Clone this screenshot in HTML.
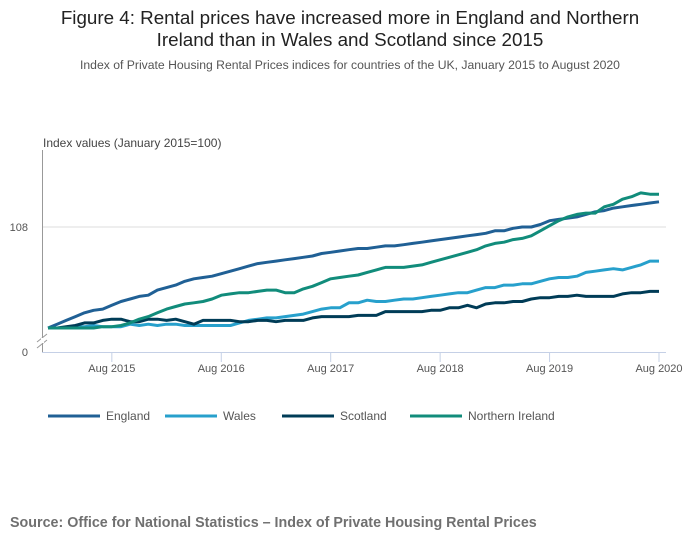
<!DOCTYPE html>
<html><head><meta charset="utf-8"><style>
body{margin:0;background:#fff;font-family:"Liberation Sans",sans-serif;}
</style></head><body>
<svg width="700" height="549" xmlns="http://www.w3.org/2000/svg" font-family="Liberation Sans, sans-serif">
<text x="350" y="24" text-anchor="middle" font-size="18.8" fill="#222">Figure 4: Rental prices have increased more in England and Northern</text>
<text x="350" y="46" text-anchor="middle" font-size="18.8" fill="#222">Ireland than in Wales and Scotland since 2015</text>
<text x="350" y="69" text-anchor="middle" font-size="12.2" fill="#555">Index of Private Housing Rental Prices indices for countries of the UK, January 2015 to August 2020</text>
<text x="43" y="147" font-size="12" fill="#444">Index values (January 2015=100)</text>
<g id="axes"></g>
<g id="series"></g>
<g id="legend"></g>
<text x="10" y="527" font-size="14.3" font-weight="bold" fill="#707070">Source: Office for National Statistics – Index of Private Housing Rental Prices</text>
</svg>
<script>
const england=[100.0,100.3,100.6,100.9,101.2,101.4,101.5,101.8,102.1,102.3,102.5,102.6,
103.0,103.2,103.4,103.7,103.9,104.0,104.1,104.3,104.5,104.7,104.9,105.1,
105.2,105.3,105.4,105.5,105.6,105.7,105.9,106.0,106.1,106.2,106.3,106.3,
106.4,106.5,106.5,106.6,106.7,106.8,106.9,107.0,107.1,107.2,107.3,107.4,
107.5,107.7,107.7,107.9,108.0,108.0,108.2,108.5,108.6,108.7,108.8,109.0,
109.2,109.3,109.5,109.6,109.7,109.8,109.9,110.0];
const wales=[100,100,100,100.1,100.1,100.2,100.1,100.1,100.1,100.3,100.2,100.3,
100.2,100.3,100.3,100.2,100.2,100.2,100.2,100.2,100.2,100.4,100.6,100.7,
100.8,100.8,100.9,101.0,101.1,101.3,101.5,101.6,101.6,102.0,102.0,102.2,
102.1,102.1,102.2,102.3,102.3,102.4,102.5,102.6,102.7,102.8,102.8,103.0,
103.2,103.2,103.4,103.4,103.5,103.5,103.7,103.9,104.0,104.0,104.1,104.4,
104.5,104.6,104.7,104.6,104.8,105.0,105.3,105.3];
const scotland=[100,100,100.1,100.2,100.4,100.4,100.6,100.7,100.7,100.5,100.5,100.7,
100.7,100.6,100.7,100.5,100.3,100.6,100.6,100.6,100.6,100.5,100.5,100.6,
100.6,100.5,100.6,100.6,100.6,100.8,100.9,100.9,100.9,100.9,101.0,101.0,
101.0,101.3,101.3,101.3,101.3,101.3,101.4,101.4,101.6,101.6,101.8,101.6,
101.9,102.0,102.0,102.1,102.1,102.3,102.4,102.4,102.5,102.5,102.6,102.5,
102.5,102.5,102.5,102.7,102.8,102.8,102.9,102.9];
const nireland=[100,100,100,100,100,100,100.1,100.1,100.2,100.4,100.7,100.9,
101.2,101.5,101.7,101.9,102.0,102.1,102.3,102.6,102.7,102.8,102.8,102.9,
103.0,103.0,102.8,102.8,103.1,103.3,103.6,103.9,104.0,104.1,104.2,104.4,
104.6,104.8,104.8,104.8,104.9,105.0,105.2,105.4,105.6,105.8,106.0,106.2,
106.5,106.7,106.8,107.0,107.1,107.3,107.7,108.1,108.5,108.8,109.0,109.1,
109.1,109.6,109.8,110.2,110.4,110.7,110.6,110.6];
const xTickLabels=["Aug 2015","Aug 2016","Aug 2017","Aug 2018","Aug 2019","Aug 2020"];
const xTickMonths=[7,19,31,43,55,67];
const yTickValues=[108];
const seriesNames=["England","Wales","Scotland","Northern Ireland"];
const colors=["#206095","#27a0cc","#003c57","#118c7b"];

const NS="http://www.w3.org/2000/svg";
const x=m=>48+m*(611/67);
const y=v=>328-(v-100)*(101/8);
function mk(tag,attrs,parent){const e=document.createElementNS(NS,tag);for(const k in attrs)e.setAttribute(k,attrs[k]);parent.appendChild(e);return e;}
const axes=document.getElementById('axes');
yTickValues.forEach(v=>{
 const g=mk('line',{x1:42,x2:666,y1:y(v),y2:y(v),stroke:'#ddd','stroke-width':1},axes);
 
 
 const t=mk('text',{x:28,y:y(v)+4,'text-anchor':'end','font-size':11,fill:'#555'},axes);
 t.textContent=v;
 
 
});
const z=mk('text',{x:28,y:356,'text-anchor':'end','font-size':11,fill:'#555'},axes);z.textContent='0';


const ya=mk('line',{x1:42.5,x2:42.5,y1:150,y2:352,stroke:'#999','stroke-width':1},axes);


const br=mk('path',{d:'M37,342 L47,334 M37,348 L47,340',stroke:'#999','stroke-width':1,fill:'none'},axes);


mk('rect',{x:41,y:338,width:3,height:5,fill:'#fff'},axes);
const xa=mk('line',{x1:42,x2:666,y1:352.5,y2:352.5,stroke:'#c5d0e6','stroke-width':1},axes);


xTickMonths.forEach((m,i)=>{
 const tk=mk('line',{x1:x(m),x2:x(m),y1:352,y2:362,stroke:'#c5d0e6'},axes);
 
 
 const t=mk('text',{x:x(m),y:372,'text-anchor':'middle','font-size':11,fill:'#555'},axes);
 t.textContent=xTickLabels[i];
 
 
});
const ser=document.getElementById('series');
[england,wales,scotland,nireland].forEach((d,i)=>{
 const p=mk('path',{d:d.map((v,m)=>(m?'L':'M')+x(m).toFixed(1)+','+y(v).toFixed(1)).join(''),fill:'none',stroke:colors[i],'stroke-width':3,'stroke-linejoin':'round'},ser);
 
 
});
const leg=document.getElementById('legend');
const lx=[48,165,282,410];
seriesNames.forEach((n,i)=>{
 const l=mk('line',{x1:lx[i],x2:lx[i]+52,y1:416,y2:416,stroke:colors[i],'stroke-width':3},leg);
 
 
 const t=mk('text',{x:lx[i]+58,y:420,'font-size':12,fill:'#555'},leg);
 t.textContent=n;
 
 
});
</script>
</body></html>
